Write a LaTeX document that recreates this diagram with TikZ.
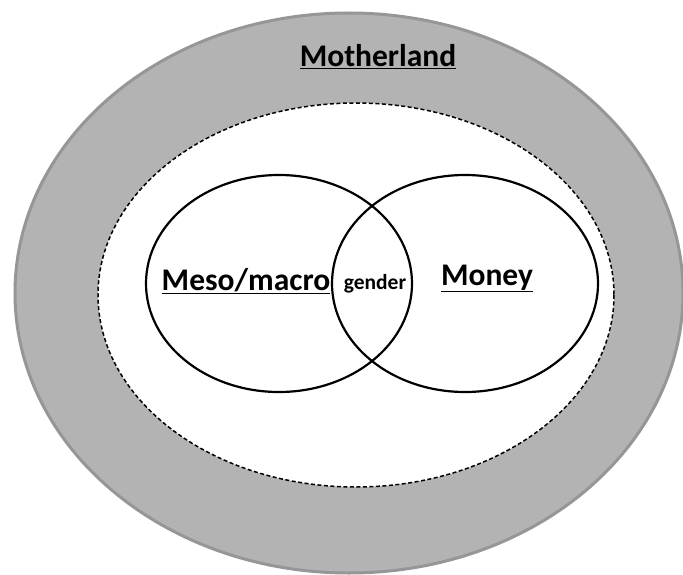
\documentclass[tikz,border=0pt]{standalone}
\usepackage{fontspec}
\setmainfont{Carlito}
\begin{document}
\begin{tikzpicture}[x=1pt,y=-1pt,
  lbl/.style={font=\bfseries\fontsize{31.5}{36}\selectfont, inner sep=0pt, anchor=base},
  small/.style={font=\bfseries\fontsize{21.5}{24}\selectfont, inner sep=0pt, anchor=base},
  ring/.style={draw=black, line width=2.2pt}]
\useasboundingbox (0,0) rectangle (683,575);
\fill[white] (0,0) rectangle (683,575);
\path[fill={rgb,255:red,179;green,179;blue,179}, draw={rgb,255:red,150;green,150;blue,150}, line width=3pt]
  (349,293) ellipse [x radius=334, y radius=280];
\path[fill=white, draw=black, line width=1.5pt, dash pattern=on 4pt off 2.5pt]
  (356,295) ellipse [x radius=258, y radius=192];
\draw[ring] (279,283.5) ellipse [x radius=133, y radius=108.5];
\draw[ring] (465,283.5) ellipse [x radius=133, y radius=108.5];
\node[lbl] (moth) at (378,67) {\underline{Motherland}};
\node[lbl] (meso) at (246,290) {\underline{Meso/macro}};
\node[lbl] (money) at (487,285) {\underline{Money}};
\node[small] (gender) at (375,289) {gender};
\end{tikzpicture}
\end{document}
